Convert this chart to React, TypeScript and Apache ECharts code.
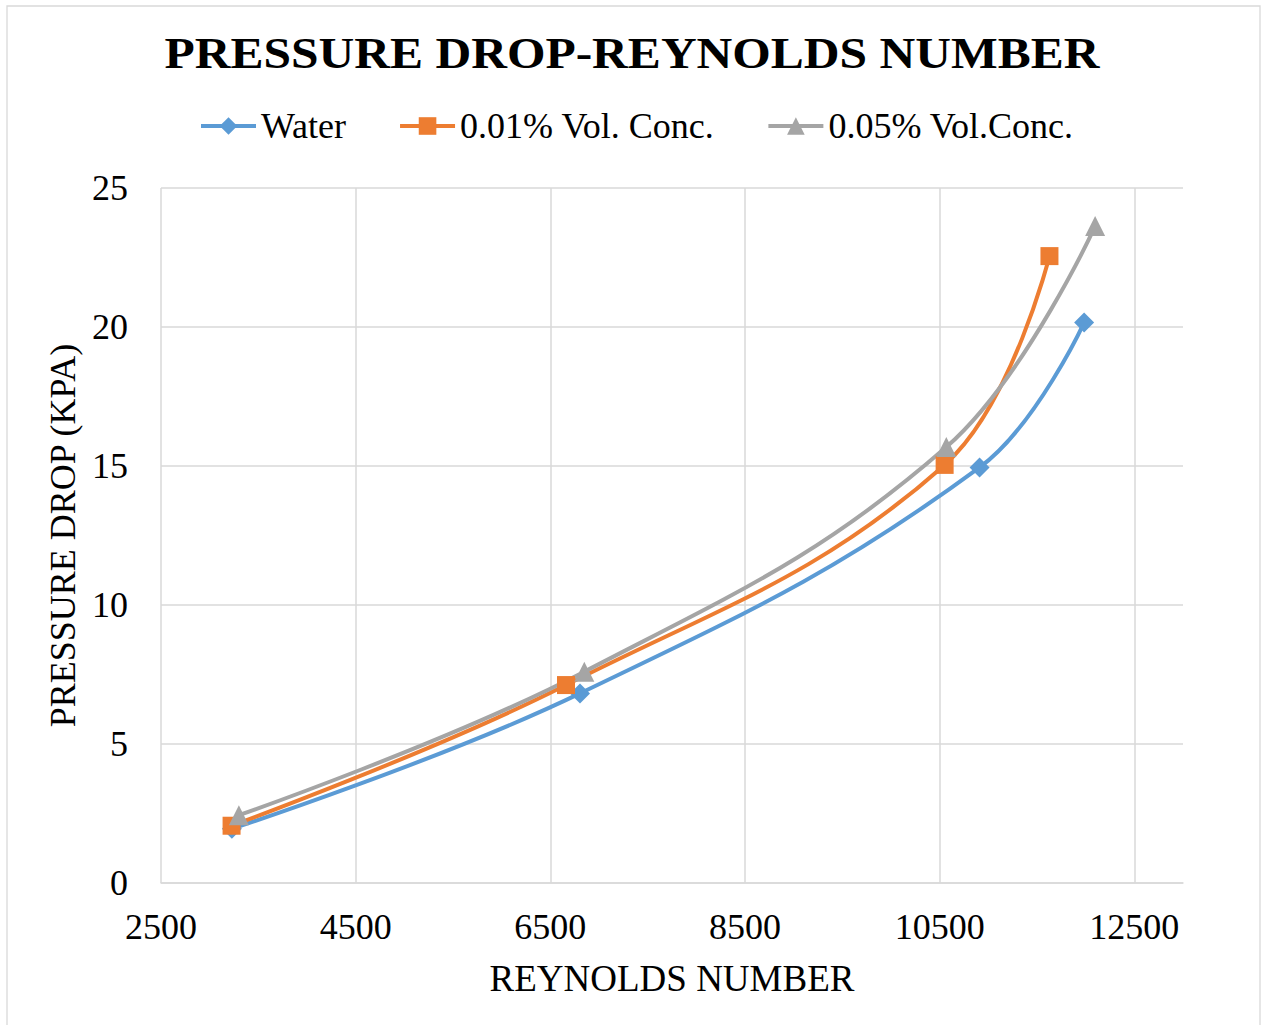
import { useEffect, useRef } from "react";
import * as echarts from "echarts";

const chartTitle = "PRESSURE DROP-REYNOLDS NUMBER";
const xAxisName = "REYNOLDS NUMBER";
const yAxisName = "PRESSURE DROP (KPA)";
const seriesNames = ["Water", "0.01% Vol. Conc.", "0.05% Vol.Conc."];

const waterRe = [3228, 6805, 10910, 11984];
const waterDp = [1.95, 6.82, 14.95, 20.16];
const conc001Re = [3225, 6661, 10551, 11628];
const conc001Dp = [2.06, 7.12, 15.04, 22.55];
const conc005Re = [3300, 6849, 10568, 12097];
const conc005Dp = [2.44, 7.6, 15.68, 23.63];

const xMin = 2500;
const xMax = 13000;
const xStep = 2000;
const yMin = 0;
const yMax = 25;
const yStep = 5;

const colors = ["#5b9bd5", "#ed7d31", "#a5a5a5"];
const symbols = ["diamond", "rect", "triangle"];
const symbolSizes = [20, 18, 20];

const FONT = '"Liberation Serif", "Times New Roman", serif';

function pairs(xs: number[], ys: number[]) {
  return xs.map((x, i) => [x, ys[i]]);
}

export default function App() {
  const ref = useRef<HTMLDivElement>(null);

  useEffect(() => {
    document.body.style.margin = "0";
    document.body.style.overflow = "hidden";
    if (!ref.current) return;
    const chart = echarts.init(ref.current, undefined, { renderer: "svg" });
    const datasets = [
      pairs(waterRe, waterDp),
      pairs(conc001Re, conc001Dp),
      pairs(conc005Re, conc005Dp),
    ];
    chart.setOption({
      animation: false,
      backgroundColor: "#ffffff",
      graphic: [
        {
          type: "rect",
          shape: { x: 7, y: 6, width: 1253, height: 1040 },
          style: { fill: "none", stroke: "#d9d9d9", lineWidth: 1.3 },
          silent: true,
        },
        {
          type: "text",
          x: 632,
          y: 53,
          scaleX: 1.1,
          style: {
            text: chartTitle,
            font: `bold 45px ${FONT}`,
            fill: "#000000",
            align: "center",
            verticalAlign: "middle",
            textAlign: "center",
            textVerticalAlign: "middle",
          },
        },
      ],
      legend: {
        top: 103,
        left: 194,
        itemWidth: 55,
        itemHeight: 22,
        itemGap: 52,
        lineStyle: { width: 4 },
        textStyle: { fontFamily: FONT, fontSize: 36, color: "#000000" },
        data: seriesNames,
      },
      grid: { left: 161, top: 188, right: 81, bottom: 142, containLabel: false },
      xAxis: {
        type: "value",
        min: xMin,
        max: xMax,
        interval: xStep,
        name: xAxisName,
        nameLocation: "middle",
        nameGap: 77,
        nameTextStyle: { fontFamily: FONT, fontSize: 37, color: "#000000" },
        axisLine: { show: true, lineStyle: { color: "#d9d9d9", width: 1.5 } },
        axisTick: { show: false },
        axisLabel: {
          fontFamily: FONT,
          fontSize: 36,
          color: "#000000",
          margin: 26,
          showMaxLabel: false,
          formatter: (v: number) => String(v),
        },
        splitLine: {
          show: true,
          showMaxLine: false,
          lineStyle: { color: "#d9d9d9", width: 1.5 },
        },
      },
      yAxis: {
        type: "value",
        min: yMin,
        max: yMax,
        interval: yStep,
        name: yAxisName,
        nameLocation: "middle",
        nameGap: 78,
        nameTextStyle: { fontFamily: FONT, fontSize: 36, color: "#000000" },
        axisLine: { show: false },
        axisTick: { show: false },
        axisLabel: { fontFamily: FONT, fontSize: 36, color: "#000000", margin: 33 },
        splitLine: { show: true, lineStyle: { color: "#d9d9d9", width: 1.5 } },
      },
      series: datasets.map((d, i) => ({
        name: seriesNames[i],
        type: "line",
        data: d,
        smooth: 0.4,
        symbol: symbols[i],
        symbolSize: symbolSizes[i],
        showSymbol: true,
        color: colors[i],
        lineStyle: { color: colors[i], width: 4 },
        itemStyle: { color: colors[i] },
      })),
    });
    return () => chart.dispose();
  }, []);

  return <div ref={ref} style={{ width: 1264, height: 1025 }} />;
}
